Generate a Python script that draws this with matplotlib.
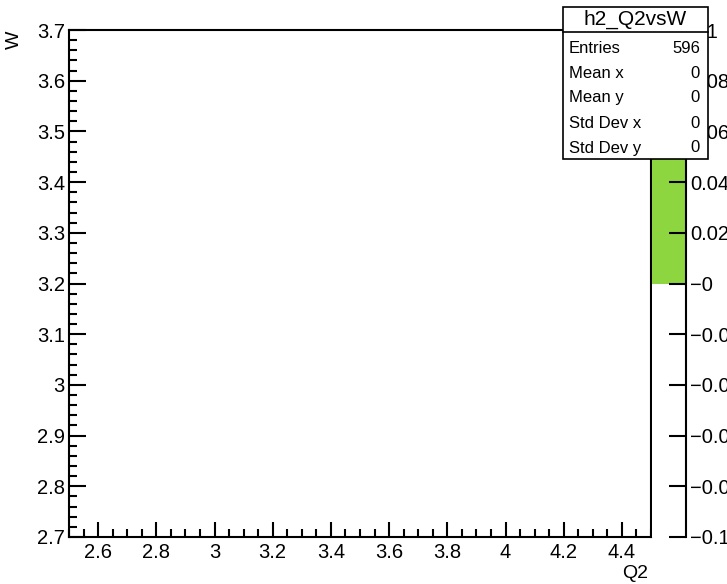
import matplotlib.pyplot as plt
import numpy as np
from matplotlib.patches import Rectangle
from matplotlib.ticker import MultipleLocator, FuncFormatter

plt.rcParams['font.family'] = ['Liberation Sans', 'DejaVu Sans']

# histogram binning and contents (empty inside the drawn range)
q2_edges = [2.5, 3.0, 3.5, 4.0, 4.5]
w_edges = [2.7, 2.95, 3.2, 3.45, 3.7]
counts = np.zeros((len(w_edges) - 1, len(q2_edges) - 1))

hist_name = 'h2_Q2vsW'
stat_labels = ['Entries', 'Mean x', 'Mean y', 'Std Dev x', 'Std Dev y']
stat_values = ['596', '0', '0', '0', '0']

z_min, z_max = -0.1, 0.1
palette_green = '#8dd640'

W, H = 727, 584
fig = plt.figure(figsize=(W / 100, H / 100), dpi=100)


def px_axes(x0, y0, x1, y1):
    # pixel box (top-left origin) -> figure axes
    return fig.add_axes([x0 / W, 1 - y1 / H, (x1 - x0) / W, (y1 - y0) / H])


ax = px_axes(69, 30, 651, 537)
masked = np.ma.masked_equal(counts, 0)
ax.pcolormesh(q2_edges, w_edges, masked, cmap='viridis', vmin=z_min, vmax=z_max)
ax.set_xlim(2.5, 4.5)
ax.set_ylim(2.7, 3.7)
ax.xaxis.set_major_locator(MultipleLocator(0.2))
ax.xaxis.set_minor_locator(MultipleLocator(0.05))
ax.yaxis.set_major_locator(MultipleLocator(0.1))
ax.yaxis.set_minor_locator(MultipleLocator(0.02))
fmt = FuncFormatter(lambda v, p: '%g' % round(v, 3))
ax.xaxis.set_major_formatter(fmt)
ax.yaxis.set_major_formatter(fmt)
ax.tick_params(which='both', direction='in', width=1.5, labelsize=14.5)
ax.tick_params(axis='x', which='major', length=11, pad=4)
ax.tick_params(axis='y', which='major', length=12, pad=3)
ax.tick_params(which='minor', length=6)
for s in ax.spines.values():
    s.set_linewidth(1.5)

# colour palette
cax = px_axes(652, 30, 686, 537)
cax.set_xlim(0, 1)
cax.set_ylim(z_min, z_max)
cax.axhspan(0, z_max, color=palette_green, lw=0)
for k in ['left', 'top', 'bottom']:
    cax.spines[k].set_visible(False)
cax.spines['right'].set_linewidth(1.5)
cax.set_xticks([])
cax.yaxis.tick_right()
cax.yaxis.set_major_locator(MultipleLocator(0.02))
cax.yaxis.set_major_formatter(FuncFormatter(lambda v, p: ('%g' % round(v, 3)).replace('-', '\u2212')))
cax.tick_params(axis='y', direction='in', length=12, width=1.5, pad=3, labelsize=14.5)

# axis titles
fig.text(14 / W, 1 - 40 / H, 'W', rotation=90, ha='center', va='center', fontsize=14)
fig.text(635 / W, 1 - 573 / H, 'Q2', ha='center', va='center', fontsize=14)

# stats box
bx0, by0, bx1, by1 = 563, 7, 708, 159
fig.patches.append(Rectangle((bx0 / W, 1 - by1 / H), (bx1 - bx0) / W, (by1 - by0) / H,
                             transform=fig.transFigure, facecolor='white',
                             edgecolor='black', lw=1.2, zorder=5))
fig.lines.append(plt.Line2D([bx0 / W, bx1 / W], [1 - 32 / H, 1 - 32 / H],
                            transform=fig.transFigure, color='black', lw=1.2, zorder=6))
fig.text((bx0 + bx1) / 2 / W, 1 - 19 / H, hist_name, ha='center', va='center',
         fontsize=15, zorder=7)
row_base = [53, 77.5, 102, 128, 152.5]
for lab, val, y in zip(stat_labels, stat_values, row_base):
    fig.text(569 / W, 1 - y / H, lab, ha='left', va='baseline', fontsize=12, zorder=7)
    fig.text(700 / W, 1 - y / H, val, ha='right', va='baseline', fontsize=12, zorder=7)

fig.savefig('out.png', dpi=100)
